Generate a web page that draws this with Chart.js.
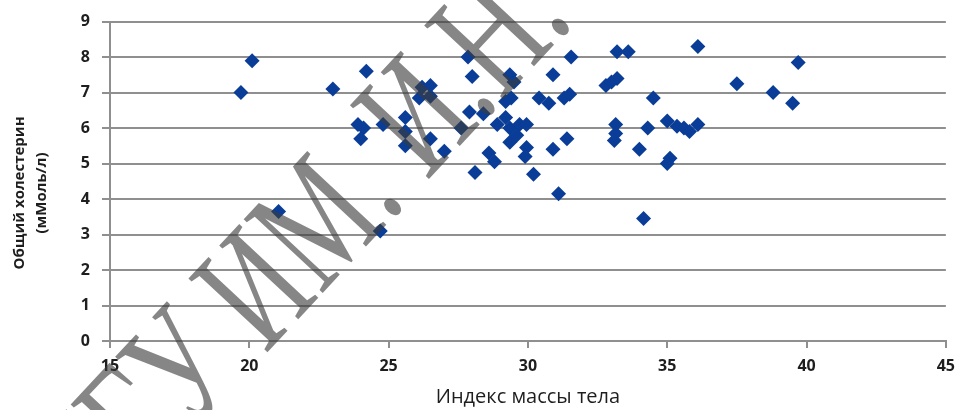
<!DOCTYPE html>
<html>
<head>
<meta charset="utf-8">
<script src="https://cdn.jsdelivr.net/npm/chart.js@4.4.1/dist/chart.umd.min.js"></script>
<style>
  html, body { margin: 0; padding: 0; background: #fff; }
  #box { width: 964px; height: 410px; }
</style>
</head>
<body>
<div id="box"><canvas id="myChart"></canvas></div>
<script>
// индекс массы тела
var bmi = [19.7, 20.1, 21.05, 23.0, 24.2, 23.9, 24.1, 24.0, 24.8, 24.7,
  25.6, 25.6, 25.6, 26.2, 26.5, 26.1, 26.5, 26.5, 27.0, 27.6,
  27.85, 28.0, 27.9, 28.4, 28.1, 28.6, 28.8, 28.9, 29.2, 29.35,
  29.7, 29.95, 29.35, 29.6, 29.95, 29.9, 29.35, 29.5, 29.4, 29.2,
  30.2, 30.9, 30.4, 30.75, 31.3, 31.5, 31.4, 30.9, 31.1, 31.55,
  32.8, 33.0, 33.2, 33.2, 33.6, 33.15, 33.15, 33.1, 34.0, 34.3,
  34.5, 34.15, 35.0, 35.35, 35.6, 35.8, 36.1, 35.1, 35.0, 36.1,
  37.5, 38.8, 39.5, 39.7];
// общий холестерин
var chol = [7.0, 7.9, 3.65, 7.1, 7.6, 6.1, 6.0, 5.7, 6.1, 3.1,
  6.3, 5.9, 5.5, 7.15, 7.2, 6.85, 6.9, 5.7, 5.35, 6.0,
  8.0, 7.45, 6.45, 6.4, 4.75, 5.3, 5.05, 6.1, 6.3, 6.0,
  6.1, 6.1, 5.6, 5.8, 5.45, 5.2, 7.5, 7.3, 6.85, 6.75,
  4.7, 7.5, 6.85, 6.7, 6.85, 6.95, 5.7, 5.4, 4.15, 8.0,
  7.2, 7.3, 7.4, 8.15, 8.15, 6.1, 5.85, 5.65, 5.4, 6.0,
  6.85, 3.45, 6.2, 6.05, 6.0, 5.9, 6.1, 5.15, 5.0, 8.3,
  7.25, 7.0, 6.7, 7.85];

var xTicks = [15, 20, 25, 30, 35, 40, 45];
var yTicks = [0, 1, 2, 3, 4, 5, 6, 7, 8, 9];
var xTitle = "Индекс массы тела";
var yTitle = ["Общий холестерин", "(мМоль/л)"];
var stampText = "ЧГУ ИМ. И.Н. УЛЬЯНОВА";

var points = [];
for (var i = 0; i < bmi.length; i++) {
  points.push({x: bmi[i], y: chol[i]});
}

var gridColor = "#8f8f8f";
var sans = "'Open Sans', 'Noto Sans', sans-serif";
var labelFont = {family: sans, size: 16, weight: "bold"};
// trailing spaces push the rotated title a bit below the middle, like the original
var pad = "\u00a0\u00a0\u00a0\u00a0\u00a0\u00a0";

var stamp = {
  id: "stamp",
  afterDraw: function(chart) {
    var ctx = chart.ctx;
    var ang = -47 * Math.PI / 180;
    var sx = 0.68;
    ctx.save();
    ctx.font = "165px 'Liberation Serif', 'DejaVu Serif', serif";
    var pre = ctx.measureText("ЧГУ ИМ").width * sx;
    var dot = ctx.measureText(".").width * sx;
    var ux = Math.cos(ang), uy = Math.sin(ang);
    var ox = 398 - ux * (pre + dot / 2);
    var oy = 212 - uy * (pre + dot / 2);
    ctx.translate(ox, oy);
    ctx.rotate(ang);
    ctx.scale(sx, 1);
    ctx.fillStyle = "rgba(60,60,60,0.62)";
    ctx.textBaseline = "alphabetic";
    ctx.fillText(stampText, 0, 0);
    ctx.restore();
  }
};

var cx = document.getElementById("myChart");
var myChart = new Chart(cx, {
  type: "scatter",
  data: {
    datasets: [{
      data: points,
      pointStyle: "rectRot",
      pointRadius: 7.5,
      pointHoverRadius: 7.5,
      pointBorderWidth: 0,
      backgroundColor: "#0a3d97",
      borderColor: "#0a3d97"
    }]
  },
  options: {
    responsive: true,
    maintainAspectRatio: false,
    animation: false,
    events: [],
    layout: {padding: {top: 19, right: 11, left: 0, bottom: 0}},
    plugins: {legend: {display: false}, tooltip: {enabled: false}},
    scales: {
      x: {
        type: "linear",
        min: xTicks[0],
        max: xTicks[xTicks.length - 1],
        afterBuildTicks: function(s) { s.ticks = xTicks.map(function(v) { return {value: v}; }); },
        afterFit: function(s) { s.height = 69; },
        grid: {drawOnChartArea: false, drawTicks: true, tickLength: 7, color: gridColor, lineWidth: 2},
        border: {display: true, color: gridColor, width: 2},
        ticks: {color: "#1e1e1e", font: labelFont, padding: 9, maxRotation: 0},
        title: {display: true, text: xTitle, color: "#1e1e1e",
          font: {family: sans, size: 20},
          padding: {top: 0, bottom: 1}}
      },
      y: {
        type: "linear",
        min: yTicks[0],
        max: yTicks[yTicks.length - 1],
        afterBuildTicks: function(s) { s.ticks = yTicks.map(function(v) { return {value: v}; }); },
        afterFit: function(s) { s.width = 110; },
        grid: {drawOnChartArea: true, drawTicks: true, tickLength: 8, color: gridColor, lineWidth: 2},
        border: {display: true, color: gridColor, width: 2},
        ticks: {color: "#1e1e1e", font: labelFont, padding: 12},
        title: {display: true, text: yTitle.map(function(t) { return t + pad; }), color: "#1e1e1e",
          font: {family: sans, size: 15, weight: "bold", lineHeight: 1.45},
          padding: {top: 9, bottom: 0}}
      }
    }
  },
  plugins: [stamp]
});
</script>
</body>
</html>
